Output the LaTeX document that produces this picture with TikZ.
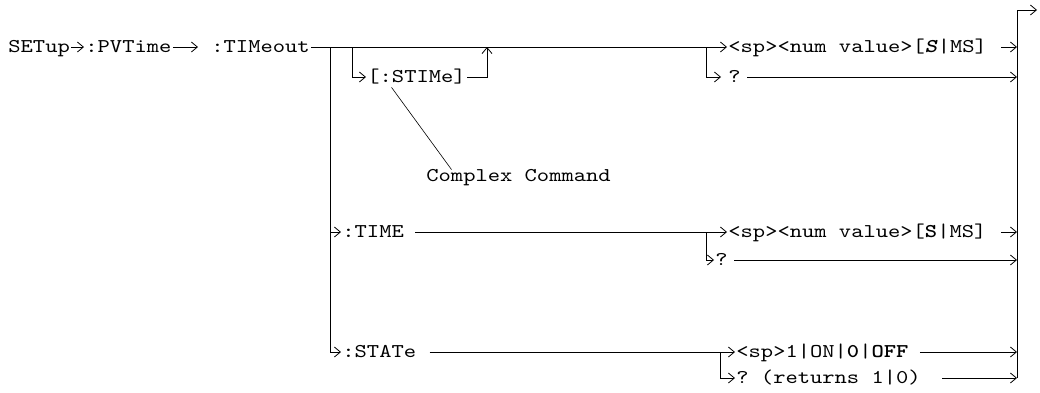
\documentclass[tikz,border=0pt]{standalone}
\usepackage{fontspec}
\setmonofont{lmmono10-regular.otf}[FakeStretch=1.2,ItalicFont=lmmono10-italic.otf,BoldFont=lmmonolt10-bold.otf,BoldItalicFont=lmmonolt10-boldoblique.otf]
\usetikzlibrary{arrows.meta,positioning,calc}

\begin{document}
\begin{tikzpicture}[>={Straight Barb[length=6pt,width=10pt]},x=1pt,y=-1pt,line width=0.8pt,
 txt/.style={font=\fontsize{19.5}{24}\ttfamily,anchor=west,inner sep=1pt,text height=14pt,text depth=4pt},
 lead/.style={line width=0.6pt}]
\useasboundingbox (0,0) rectangle (1040,392);
\node[txt] (setup) at (7,47) {SETup};
\node[txt] (pvtime) at (84,47) {:PVTime};
\node[txt] (timeout) at (210,47) {:TIMeout};
\node[txt] (stime) at (366,77) {[:STIMe]};
\node[txt] (cplx) at (425,176) {Complex Command};
\node[txt] (numa) at (727,47) {<sp><num value>[\textbf{\textit{S}}|MS]};
\node[txt] (qa) at (727,77) {?};
\node[txt] (time) at (341,232) {:TIME};
\node[txt] (numb) at (727,232) {<sp><num value>[\textbf{S}|MS]};
\node[txt] (qb) at (714,260) {?};
\node[txt] (state) at (341,352) {:STATe};
\node[txt] (onoff) at (735,352) {<sp>1|ON|\textbf{0}|\textbf{OFF}};
\node[txt] (qc) at (735,378) {? (returns 1|0)};
\coordinate (ja) at (330,47);
\coordinate (jb) at (352,47);
\coordinate (jc) at (487,47);
\coordinate (jd) at (706,47);
\coordinate (je) at (706,232);
\coordinate (jf) at (720,352);
\coordinate (ra) at (1017,10);
\coordinate (rb) at (1017,378);
\coordinate (out) at (1037,10);
\draw[->] (setup) -- (pvtime);
\draw[->] (pvtime) -- ([xshift=-12pt]timeout.west);
\draw[->] (timeout) -- (numa);
\draw[->] (jb) |- (stime);
\draw[->] (stime) -| (jc);
\draw[lead] ([xshift=-25pt]stime.south) -- ([xshift=-67pt,yshift=-4pt]cplx.north);
\draw[->] (jd) |- ([xshift=-6pt]qa.west);
\draw[->] ([xshift=13pt]numa.east) -- (numa.east -| ra);
\draw[->] ([xshift=5pt]qa.east) -- (qa -| ra);
\draw (ja) -- (ja |- state);
\draw[->] (ja) |- (time);
\draw[->] (ja) |- (state);
\draw[->] ([xshift=10pt]time.east) -- (numb);
\draw[->] (je) |- (qb);
\draw[->] ([xshift=13pt]numb.east) -- (numb.east -| ra);
\draw[->] ([xshift=5pt]qb.east) -- (qb -| ra);
\draw[->] ([xshift=12pt]state.east) -- (onoff);
\draw[->] (jf) |- (qc);
\draw[->] ([xshift=10pt]onoff.east) -- (onoff -| ra);
\draw[->] ([xshift=20pt]qc.east) -- (qc -| ra);
\draw[->] (rb) |- (out);
\end{tikzpicture}
\end{document}
